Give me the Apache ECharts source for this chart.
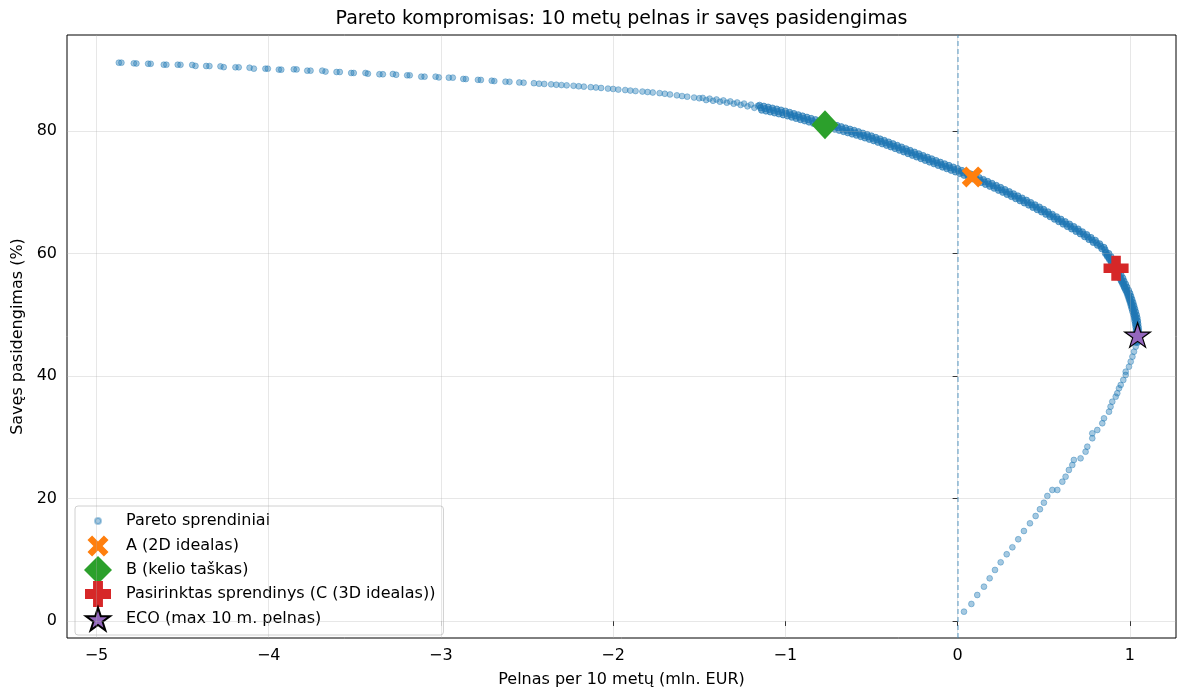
<!DOCTYPE html>
<html>
<head>
<meta charset="utf-8">
<script src="https://cdn.jsdelivr.net/npm/echarts@6/dist/echarts.min.js"></script>
<style>html,body{margin:0;padding:0;background:#fff}#chart{width:1189px;height:690px}</style>
</head>
<body>
<div id="chart"></div>
<script>
const chartTitle = 'Pareto kompromisas: 10 metų pelnas ir savęs pasidengimas';
const xName = 'Pelnas per 10 metų (mln. EUR)';
const yName = 'Savęs pasidengimas (%)';
const seriesNames = ['Pareto sprendiniai', 'A (2D idealas)', 'B (kelio taškas)', 'Pasirinktas sprendinys (C (3D idealas))', 'ECO (max 10 m. pelnas)'];
const xTicks = [-5, -4, -3, -2, -1, 0, 1];
const yTicks = [0, 20, 40, 60, 80];
const zeroLine = [0];

// Pareto solutions – far (sparse) part of upper branch
const paretoFar = [
[-4.870,91.15],[-4.855,91.15],[-4.783,91.05],[-4.768,91.02],[-4.700,90.98],[-4.685,90.97],
[-4.609,90.82],[-4.594,90.82],[-4.528,90.82],[-4.512,90.80],[-4.444,90.78],[-4.425,90.62],
[-4.363,90.61],[-4.344,90.60],[-4.280,90.55],[-4.261,90.42],[-4.193,90.40],[-4.174,90.40],
[-4.111,90.33],[-4.086,90.18],[-4.019,90.17],[-4.005,90.17],[-3.941,90.02],[-3.927,90.01],
[-3.854,90.07],[-3.838,90.05],[-3.776,89.85],[-3.757,89.85],[-3.689,89.85],[-3.670,89.70],
[-3.606,89.63],[-3.587,89.63],[-3.521,89.47],[-3.506,89.47],[-3.438,89.47],[-3.424,89.35],
[-3.357,89.26],[-3.337,89.26],[-3.279,89.30],[-3.260,89.18],[-3.196,89.09],[-3.181,89.09],
[-3.114,88.87],[-3.095,88.87],[-3.031,88.87],[-3.012,88.75],[-2.954,88.71],[-2.931,88.71],
[-2.870,88.50],[-2.855,88.48],[-2.785,88.35],[-2.768,88.33],[-2.705,88.21],[-2.690,88.15],
[-2.625,88.05],[-2.602,88.03],[-2.545,87.92],[-2.520,87.88]
];
// middle part (closer spacing)
const paretoMid = [
[-2.46,87.80],[-2.43,87.72],[-2.40,87.68],[-2.36,87.62],[-2.33,87.55],[-2.30,87.50],
[-2.27,87.45],[-2.23,87.38],[-2.20,87.30],[-2.17,87.24],[-2.13,87.15],[-2.10,87.10],
[-2.07,87.02],[-2.03,86.92],[-2.00,86.86],[-1.97,86.76],[-1.93,86.68],[-1.90,86.60],
[-1.87,86.52],[-1.83,86.44],[-1.80,86.36],[-1.77,86.28],[-1.73,86.18],[-1.70,86.08],
[-1.67,85.96],[-1.63,85.82],[-1.60,85.70],[-1.57,85.60],[-1.53,85.46],[-1.50,85.34],
[-1.48,85.40],[-1.46,85.05],[-1.44,85.28],[-1.42,84.93],[-1.40,85.14],[-1.38,84.78],
[-1.36,84.99],[-1.34,84.62],[-1.32,84.83],[-1.30,84.45],[-1.28,84.65],[-1.26,84.25],
[-1.24,84.48],[-1.22,84.02],[-1.20,84.30],[-1.18,83.78],[-1.16,84.10]
];
// lower branch
const paretoLower = [
[1.034,44.78],[1.024,43.97],[1.015,43.15],[1.005,42.34],[0.995,41.52],[0.976,40.70],
[0.976,40.16],[0.962,39.35],[0.947,38.53],[0.937,37.99],[0.927,37.18],[0.918,36.62],
[0.898,35.80],[0.888,34.99],[0.879,34.17],[0.850,33.09],[0.840,32.28],[0.811,31.18],
[0.782,30.64],[0.782,29.83],[0.753,28.46],[0.743,27.64],[0.714,26.56],[0.675,26.29],
[0.666,25.47],[0.646,24.65],[0.627,23.56],[0.608,22.74],[0.579,21.39],[0.550,21.39],
[0.521,20.41],[0.501,19.31],[0.478,18.24],[0.453,17.14],[0.420,15.95],[0.385,14.69],
[0.352,13.34],[0.318,12.03],[0.285,10.89],[0.250,9.58],[0.217,8.33],[0.186,6.97],
[0.153,5.60],[0.114,4.24],[0.080,2.78],[0.037,1.52]
];
// dense band: upper/lower edges
const paretoBand = [
[-1.150,84.20],[-1.138,83.40],[-1.125,84.05],[-1.113,83.25],[-1.100,83.90],[-1.088,83.10],
[-1.075,83.74],[-1.063,82.94],[-1.050,83.58],[-1.038,82.78],[-1.025,83.42],[-1.013,82.62],
[-1.000,83.25],[-0.988,82.45],[-0.975,83.05],[-0.963,82.25],[-0.950,82.85],[-0.938,82.05],
[-0.925,82.65],[-0.913,81.85],[-0.900,82.45],[-0.888,81.65],[-0.875,82.25],[-0.863,81.45],
[-0.850,82.05],[-0.838,81.25],[-0.825,81.85],[-0.813,81.05],[-0.800,81.65],[-0.788,80.85],
[-0.775,81.46],[-0.763,80.66],[-0.750,81.28],[-0.738,80.48],[-0.725,81.09],[-0.713,80.29],
[-0.700,80.90],[-0.688,80.10],[-0.675,80.70],[-0.663,79.90],[-0.650,80.50],[-0.638,79.70],
[-0.625,80.30],[-0.613,79.50],[-0.600,80.10],[-0.588,79.30],[-0.575,79.88],[-0.563,79.08],
[-0.550,79.65],[-0.538,78.85],[-0.525,79.43],[-0.513,78.63],[-0.500,79.20],[-0.488,78.40],
[-0.475,78.95],[-0.463,78.15],[-0.450,78.70],[-0.438,77.90],[-0.425,78.45],[-0.413,77.65],
[-0.400,78.20],[-0.388,77.40],[-0.375,77.92],[-0.363,77.12],[-0.350,77.65],[-0.338,76.85],
[-0.325,77.38],[-0.313,76.58],[-0.300,77.10],[-0.288,76.30],[-0.275,76.82],[-0.263,76.02],
[-0.250,76.55],[-0.238,75.75],[-0.225,76.28],[-0.213,75.48],[-0.200,76.00],[-0.188,75.20],
[-0.175,75.72],[-0.163,74.92],[-0.150,75.45],[-0.138,74.65],[-0.125,75.18],[-0.113,74.38],
[-0.100,74.90],[-0.088,74.10],[-0.075,74.64],[-0.063,73.84],[-0.050,74.38],[-0.038,73.58],
[-0.025,74.11],[-0.013,73.31],[0.000,73.85],[0.012,73.05],[0.025,73.56],[0.037,72.76],
[0.050,73.28],[0.062,72.48],[0.075,72.99],[0.087,72.19],[0.100,72.70],[0.112,71.90],
[0.125,72.39],[0.137,71.59],[0.150,72.08],[0.162,71.28],[0.175,71.76],[0.187,70.96],
[0.200,71.45],[0.212,70.65],[0.225,71.11],[0.237,70.31],[0.250,70.78],[0.262,69.98],
[0.275,70.44],[0.287,69.64],[0.300,70.10],[0.312,69.30],[0.325,69.75],[0.337,68.95],
[0.350,69.40],[0.362,68.60],[0.375,69.05],[0.387,68.25],[0.400,68.70],[0.412,67.90],
[0.425,68.32],[0.437,67.52],[0.450,67.95],[0.462,67.15],[0.475,67.58],[0.487,66.78],
[0.500,67.20],[0.512,66.40],[0.525,66.80],[0.537,66.00],[0.550,66.40],[0.562,65.60],
[0.575,66.00],[0.587,65.20],[0.600,65.60],[0.612,64.80],[0.625,65.20],[0.637,64.40],
[0.650,64.80],[0.662,64.00],[0.675,64.40],[0.687,63.60],[0.700,64.00],[0.712,63.20],
[0.725,63.54],[0.737,62.74],[0.750,63.08],[0.762,62.28],[0.775,62.61],[0.787,61.81],
[0.800,62.15],[0.812,61.35],[0.825,61.58],[0.837,60.78],[0.850,61.00],[0.862,60.20]
];
// dense band: core row
const paretoBandCore = [
[-1.144,83.80],[-1.119,83.65],[-1.094,83.50],[-1.069,83.34],[-1.044,83.18],[-1.019,83.02],
[-0.994,82.85],[-0.969,82.65],[-0.944,82.45],[-0.919,82.25],[-0.894,82.05],[-0.869,81.85],
[-0.844,81.65],[-0.819,81.45],[-0.794,81.25],[-0.769,81.06],[-0.744,80.88],[-0.719,80.69],
[-0.694,80.50],[-0.669,80.30],[-0.644,80.10],[-0.619,79.90],[-0.594,79.70],[-0.569,79.48],
[-0.544,79.25],[-0.519,79.03],[-0.494,78.80],[-0.469,78.55],[-0.444,78.30],[-0.419,78.05],
[-0.394,77.80],[-0.369,77.52],[-0.344,77.25],[-0.319,76.98],[-0.294,76.70],[-0.269,76.42],
[-0.244,76.15],[-0.219,75.88],[-0.194,75.60],[-0.169,75.32],[-0.144,75.05],[-0.119,74.78],
[-0.094,74.50],[-0.069,74.24],[-0.044,73.98],[-0.019,73.71],[0.006,73.45],[0.031,73.16],
[0.056,72.88],[0.081,72.59],[0.106,72.30],[0.131,71.99],[0.156,71.68],[0.181,71.36],
[0.206,71.05],[0.231,70.71],[0.256,70.38],[0.281,70.04],[0.306,69.70],[0.331,69.35],
[0.356,69.00],[0.381,68.65],[0.406,68.30],[0.431,67.92],[0.456,67.55],[0.481,67.18],
[0.506,66.80],[0.531,66.40],[0.556,66.00],[0.581,65.60],[0.606,65.20],[0.631,64.80],
[0.656,64.40],[0.681,64.00],[0.706,63.60],[0.731,63.14],[0.756,62.68],[0.781,62.21],
[0.806,61.75],[0.831,61.18],[0.856,60.60]
];
// turning part near the maximum profit
const paretoTurn = [
[0.858,60.0],[0.878,60.0],[0.870,59.5],[0.890,59.5],[0.882,59.0],[0.902,59.0],
[0.893,58.5],[0.913,58.5],[0.902,58.0],[0.921,58.0],[0.911,57.5],[0.929,57.5],
[0.921,57.0],[0.939,57.0],[0.931,56.5],[0.949,56.5],[0.941,56.0],[0.959,56.0],
[0.950,55.5],[0.966,55.5],[0.959,55.0],[0.975,55.0],[0.967,54.5],[0.983,54.5],
[0.976,54.0],[0.992,54.0],[0.984,53.5],[1.000,53.5],[0.990,53.0],[1.006,53.0],
[0.996,52.5],[1.012,52.5],[1.002,52.0],[1.018,52.0],[1.007,51.5],[1.023,51.5],
[1.012,51.0],[1.028,51.0],[1.017,50.5],[1.033,50.5],[1.022,50.0],[1.038,50.0],
[1.026,49.5],[1.042,49.5],[1.029,49.0],[1.045,49.0],[1.032,48.5],[1.047,48.5],
[1.035,48.0],[1.049,48.0],[1.037,47.5],[1.051,47.5],[1.038,47.0],[1.052,47.0],
[1.037,46.5],[1.051,46.5],[1.036,46.0],[1.050,46.0],[1.034,45.5],[1.046,45.5],
[0.868,59.75],[0.880,59.25],[0.892,58.75],[0.903,58.25],[0.912,57.75],[0.920,57.25],
[0.930,56.75],[0.940,56.25],[0.950,55.75],[0.958,55.25],[0.967,54.75],[0.975,54.25],
[0.984,53.75],[0.992,53.25],[0.998,52.75],[1.004,52.25],[1.010,51.75],[1.015,51.25],
[1.020,50.75],[1.025,50.25],[1.030,49.75],[1.034,49.25],[1.037,48.75],[1.040,48.25],
[1.042,47.75],[1.044,47.25],[1.045,46.75],[1.044,46.25],[1.043,45.75]
];
const pointA = [0.085, 72.5];
const pointB = [-0.77, 81.0];
const pointC = [0.92, 57.6];
const pointEco = [1.045, 46.7];

const FONT = 'DejaVu Sans';
const symX = 'path://M-1.67 -1.67M11.67 11.67M2.2 0L5 2.8L7.8 0L10 2.2L7.2 5L10 7.8L7.8 10L5 7.2L2.2 10L0 7.8L2.8 5L0 2.2Z';
const symPlus = 'path://M-0.385 -0.385M10.385 10.385M3.1 0L6.9 0L6.9 3.1L10 3.1L10 6.9L6.9 6.9L6.9 10L3.1 10L3.1 6.9L0 6.9L0 3.1L3.1 3.1Z';
const symStar = 'path://M-5.5 -10.25M105.5 100.75M50 0L61.2 34.5L97.6 34.5L68.2 55.9L79.4 90.5L50 69.1L20.6 90.5L31.8 55.9L2.4 34.5L38.8 34.5Z';
const symDot = 'path://M0 0M28 28M11 14a3 3 0 1 0 6 0a3 3 0 1 0 -6 0Z';

const paretoSparse = paretoFar.concat(paretoMid, paretoLower);
const paretoDense = paretoBand.concat(paretoBandCore, paretoTurn);
const fmt = v => (v < 0 ? '\u2212' + Math.abs(v) : String(v));

const chart = echarts.init(document.getElementById('chart'), null, { renderer: 'canvas' });
chart.setOption({
  animation: false,
  backgroundColor: '#ffffff',
  textStyle: { fontFamily: FONT },
  title: {
    text: chartTitle, left: 621.5, top: 10, padding: 0, textAlign: 'center',
    textStyle: { fontFamily: FONT, fontSize: 19, fontWeight: 'normal', color: '#000' }
  },
  grid: { left: 67, right: 13, top: 35, bottom: 52, outerBoundsMode: 'none', containLabel: false, show: true, borderColor: '#000', borderWidth: 1, backgroundColor: 'transparent' },
  legend: {
    orient: 'vertical', left: 75, top: 506, padding: [0, 8, 1, 8],
    itemWidth: 28, itemHeight: 28, itemGap: -4, selectedMode: false,
    backgroundColor: 'rgba(255,255,255,0.85)', borderColor: '#d0d0d0', borderWidth: 1, borderRadius: 3,
    formatter: n => '{t|' + n + '}',
    textStyle: { fontFamily: FONT, fontSize: 16, color: '#000', rich: { t: { fontFamily: FONT, fontSize: 16, color: '#000', padding: [0, 0, 0, 9] } } },
    data: [
      { name: seriesNames[0], icon: symDot },
      { name: seriesNames[1], icon: symX },
      { name: seriesNames[2], icon: 'diamond' },
      { name: seriesNames[3], icon: symPlus },
      { name: seriesNames[4], icon: symStar }
    ]
  },
  xAxis: {
    type: 'value', min: -5.171, max: 1.268,
    name: xName, nameLocation: 'middle', nameGap: 34,
    nameTextStyle: { fontFamily: FONT, fontSize: 16, color: '#000' },
    axisLine: { show: false },
    axisTick: { show: true, customValues: xTicks, length: 5, lineStyle: { color: '#000', width: 1 } },
    axisLabel: { customValues: xTicks, formatter: fmt, color: '#000', fontFamily: FONT, fontSize: 16, margin: 10 },
    splitLine: { show: false }
  },
  yAxis: {
    type: 'value', min: -2.78, max: 95.67,
    name: yName, nameLocation: 'middle', nameGap: 38, nameRotate: 90,
    nameTextStyle: { fontFamily: FONT, fontSize: 16, color: '#000' },
    axisLine: { show: false },
    axisTick: { show: true, customValues: yTicks, length: 5, lineStyle: { color: '#000', width: 1 } },
    axisLabel: { customValues: yTicks, formatter: fmt, color: '#000', fontFamily: FONT, fontSize: 16, margin: 10 },
    splitLine: { show: false }
  },
  series: [
    {
      type: 'scatter', name: '_grid', data: [], z: 1, silent: true,
      markLine: {
        silent: true, symbol: ['none', 'none'], label: { show: false },
        lineStyle: { color: 'rgba(176,176,176,0.3)', width: 1, type: 'solid' },
        data: xTicks.map(v => ({ xAxis: v })).concat(yTicks.map(v => ({ yAxis: v })))
      }
    },
    {
      type: 'scatter', name: '_zero', data: [], z: 2, silent: true,
      markLine: {
        silent: true, symbol: ['none', 'none'], label: { show: false },
        lineStyle: { color: 'rgba(31,119,180,0.5)', width: 1.5, type: [5, 3] },
        data: zeroLine.map(v => ({ xAxis: v }))
      }
    },
    {
      type: 'scatter', name: seriesNames[0], data: paretoSparse, z: 3,
      symbol: 'circle', symbolSize: 5.8,
      itemStyle: { color: '#1f77b4', borderColor: '#1f77b4', borderWidth: 1, opacity: 0.4 }
    },
    {
      type: 'scatter', name: seriesNames[0], data: paretoDense, z: 3,
      symbol: 'circle', symbolSize: 6.2,
      itemStyle: { color: '#1f77b4', borderColor: '#1f77b4', borderWidth: 1, opacity: 0.6 }
    },
    {
      type: 'scatter', name: seriesNames[1], data: [pointA], z: 5,
      symbol: symX, symbolSize: 28, itemStyle: { color: '#ff7f0e', opacity: 1 }
    },
    {
      type: 'scatter', name: seriesNames[2], data: [pointB], z: 5,
      symbol: 'diamond', symbolSize: [27, 29], itemStyle: { color: '#2ca02c', opacity: 1 }
    },
    {
      type: 'scatter', name: seriesNames[3], data: [pointC], z: 5,
      symbol: symPlus, symbolSize: 27, itemStyle: { color: '#d62728', opacity: 1 }
    },
    {
      type: 'scatter', name: seriesNames[4], data: [pointEco], z: 5,
      symbol: symStar, symbolSize: 30, itemStyle: { color: '#9467bd', borderColor: '#000', borderWidth: 1.2, opacity: 1 }
    }
  ]
});
</script>
</body>
</html>
